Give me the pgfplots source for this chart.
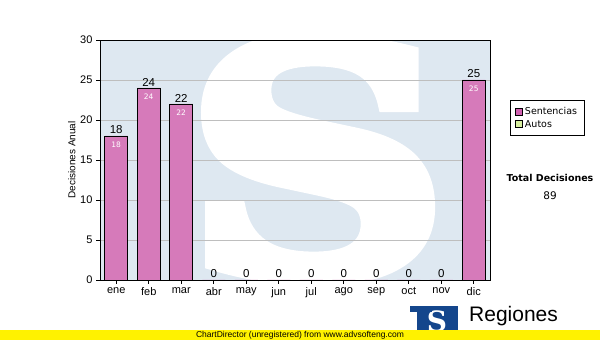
\documentclass[border=0pt]{standalone}
\usepackage{pgfplots}
\pgfplotsset{compat=1.18}
\usepackage{fontspec}
\setmainfont{Liberation Sans}
\newfontfamily\dejavu{DejaVu Sans}
\newfontfamily\serifb{DejaVu Serif}
\newfontfamily\fatserif[FakeBold=5]{DejaVu Serif Bold}
\definecolor{bgblue}{RGB}{222,232,241}
\definecolor{barpink}{RGB}{214,122,186}
\definecolor{legpink}{RGB}{208,96,176}
\definecolor{leggreen}{RGB}{216,240,160}
\definecolor{logoblue}{RGB}{20,70,140}
\definecolor{gridgray}{RGB}{190,190,190}
\begin{document}
\begin{tikzpicture}[x=1pt,y=1pt]
\path[use as bounding box, fill=white] (0,0) rectangle (600,340);
% plot background and watermark
\fill[bgblue] (100,60) rectangle (490,300);
\begin{scope}
\clip (100,60) rectangle (490,300);
\node[text=white, font=\fatserif\fontsize{315}{315}\selectfont, xscale=1.15, inner sep=0pt] at (317,181) {S};
\end{scope}
\begin{axis}[
  at={(100pt,60pt)}, anchor=south west,
  scale only axis, width=390pt, height=240pt,
  xmin=-0.5, xmax=11.5, ymin=0, ymax=30,
  xtick={0,...,11},
  xticklabels={ene,feb,mar,abr,may,jun,jul,ago,sep,oct,nov,dic},
  ytick={0,5,...,30},
  ymajorgrids, grid style={gridgray, line width=0.8pt},
  axis line style={black, line width=0.9pt},
  tick style={black, line width=0.8pt},
  major tick length=4pt,
  xtick pos=bottom, ytick pos=left,
  tick align=outside,
  ticklabel style={font=\fontsize{11}{13}\selectfont},
  /pgf/number format/assume math mode=true,
  ylabel={Decisiones Anual},
  ylabel style={font=\fontsize{10}{12}\selectfont, at={(-21pt,0.5)}, anchor=south},
  ybar, bar width=23pt, bar shift=0pt,
  axis background/.style={fill=none},
  legend style={at={(1.051,0.75)}, anchor=north west, draw=black, line width=0.8pt,
    font=\dejavu\fontsize{9.5}{11}\selectfont, row sep=0pt, inner sep=5pt,
    legend cell align=left},
]
\addplot[fill=barpink, draw=black, line width=0.9pt, forget plot,
  nodes near coords,
  every node near coord/.append style={font=\fontsize{11.5}{13}\selectfont, text=black, inner sep=1.5pt}]
  coordinates {(0,18) (1,24) (2,22) (3,0) (4,0) (5,0) (6,0) (7,0) (8,0) (9,0) (10,0) (11,25)};
\addlegendimage{legend image code/.code={\draw[fill=legpink, draw=black, line width=0.7pt] (0pt,-3.5pt) rectangle (7pt,3.5pt);}}
\addlegendentry{Sentencias}
\addlegendimage{legend image code/.code={\draw[fill=leggreen, draw=black, line width=0.7pt] (0pt,-3.5pt) rectangle (7pt,3.5pt);}}
\addlegendentry{Autos}
\addplot[fill=none, draw=none, forget plot,
  nodes near coords,
  every node near coord/.append style={font=\dejavu\fontsize{7.5}{9}\selectfont, text=white, anchor=north, yshift=-2pt}]
  coordinates {(0,18) (1,24) (2,22) (11,25)};
\end{axis}
% total decisiones
\node[font=\dejavu\bfseries\fontsize{9.5}{11}\selectfont] at (550,162) {Total Decisiones};
\node[font=\dejavu\fontsize{10.5}{12}\selectfont] at (550,144) {89};
% logo
\fill[logoblue] (410,10) rectangle (458,34);
\node[text=white, font=\serifb\bfseries\fontsize{28}{28}\selectfont, inner sep=0pt] at (437,19) {S};
\fill[white] (410,10) rectangle (417,28);
\fill[logoblue] (410,28) rectangle (432,34);
\node[font=\fontsize{21}{23}\selectfont, anchor=west, inner sep=0pt] at (469,24) {Regiones};
% yellow strip
\fill[yellow] (0,0) rectangle (600,10);
\node[font=\fontsize{8.5}{10}\selectfont, inner sep=0pt] at (300,5) {ChartDirector (unregistered) from www.advsofteng.com};
\end{tikzpicture}
\end{document}
